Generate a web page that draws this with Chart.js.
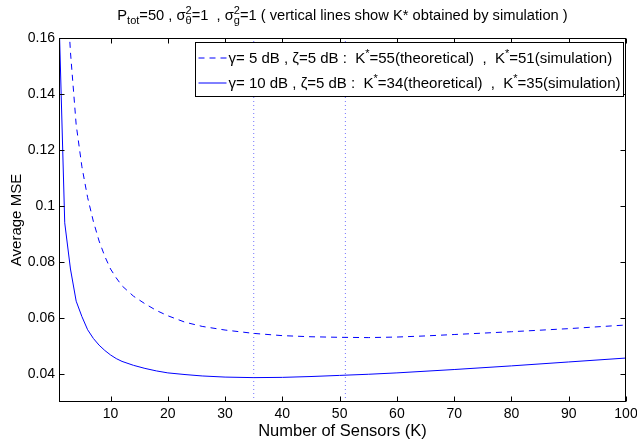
<!DOCTYPE html>
<html><head><meta charset="utf-8">
<script src="https://cdn.jsdelivr.net/npm/chart.js@4.4.0/dist/chart.umd.min.js"></script>
<style>html,body{margin:0;padding:0;background:#fff;overflow:hidden}#wrap{position:relative;width:637px;height:439px}</style>
</head><body><div id="wrap"><canvas id="c" width="637" height="439"></canvas></div>
<script>
// ---- data ----
const kDashed   = [2,3,4,5,6,7,8,9,10,11,12,14,16,18,20,23,26,30,35,40,45,50,55,60,65,70,80,90,100];
const mseDashed = [0.19,0.155,0.129,0.114,0.103,0.0945,0.0875,0.082,0.0775,0.0743,0.0715,0.0678,0.0651,0.0627,0.0608,0.0585,0.057,0.0557,0.0545,0.0537,0.0533,0.0531,0.053,0.0532,0.0536,0.0541,0.0551,0.0562,0.0575];
const kSolid    = [1,2,3,4,5,6,7,8,9,10,11,12,14,16,18,20,23,26,30,35,40,45,50,55,60,70,80,90,100];
const mseSolid  = [0.168,0.094,0.0775,0.066,0.0605,0.0558,0.0527,0.0503,0.0484,0.0468,0.0455,0.0445,0.0431,0.042,0.0411,0.0404,0.0398,0.0393,0.0389,0.0387,0.0388,0.0391,0.0395,0.0399,0.0404,0.0416,0.0429,0.0443,0.0457];
const kSimulated = [35, 51];
const xTicks = [10,20,30,40,50,60,70,80,90,100];
const yTicks = [0.04,0.06,0.08,0.1,0.12,0.14,0.16];
const yTickLabels = ['0.04','0.06','0.08','0.1','0.12','0.14','0.16'];
const xRange = [1, 100];
const yRange = [0.03, 0.16];
const seriesLabels = [
  'γ= 5 dB , ζ=5 dB :  K^{*}=55(theoretical)  ,  K^{*}=51(simulation)',
  'γ= 10 dB , ζ=5 dB :  K^{*}=34(theoretical)  ,  K^{*}=35(simulation)'
];
const titleText = 'P_{tot}=50 , σ^{2}_{θ}=1  , σ^{2}_{g}=1 ( vertical lines show K* obtained by simulation )';
const xTitle = 'Number of Sensors (K)';
const yTitle = 'Average MSE';

// ---- helpers ----
const FONT = "'Liberation Sans', Arial, Helvetica, sans-serif";
function parseRich(s){
  const out=[]; let i=0, buf='';
  while(i<s.length){
    const c=s[i];
    if((c==='^'||c==='_') && s[i+1]==='{'){
      const j=s.indexOf('}',i);
      const t=s.slice(i+2,j);
      if(buf){out.push({t:buf,k:'n'});buf='';}
      const kind=c==='^'?'sup':'sub';
      const prev=out[out.length-1];
      if(prev && prev.k!=='n' && prev.k!==kind && !prev.stack){prev.stack={t:t,k:kind};}
      else out.push({t:t,k:kind});
      i=j+1;
    } else {buf+=c;i++;}
  }
  if(buf) out.push({t:buf,k:'n'});
  return out;
}
function richWidth(ctx, segs, size){
  let w=0;
  for(const s of segs){
    if(s.k==='n'){ctx.font=size+'px '+FONT; w+=ctx.measureText(s.t).width;}
    else {
      const ss=Math.round(size*0.72); ctx.font=ss+'px '+FONT;
      let a=ctx.measureText(s.t).width;
      if(s.stack) a=Math.max(a, ctx.measureText(s.stack.t).width);
      w+=a;
    }
  }
  return w;
}
function drawRich(ctx, str, x, y, size, align){
  const segs=parseRich(str);
  const W=richWidth(ctx, segs, size);
  let cx = align==='center' ? x-W/2 : x;
  ctx.textBaseline='alphabetic'; ctx.textAlign='left'; ctx.fillStyle='#000';
  for(const s of segs){
    if(s.k==='n'){ctx.font=size+'px '+FONT; ctx.fillText(s.t,cx,y); cx+=ctx.measureText(s.t).width;}
    else {
      const ss=Math.round(size*0.72); ctx.font=ss+'px '+FONT;
      const parts=[s]; if(s.stack) parts.push(s.stack);
      let adv=0;
      for(const p of parts){
        const dy = p.k==='sup' ? -size*0.4 : size*0.3;
        ctx.fillText(p.t,cx,y+dy);
        adv=Math.max(adv, ctx.measureText(p.t).width);
      }
      cx+=adv;
    }
  }
  return W;
}

const framePlugin = {
  id:'frame',
  afterDraw(chart){
    const ctx=chart.ctx, a=chart.chartArea, xs=chart.scales.x, ys=chart.scales.y;
    ctx.save();
    ctx.strokeStyle='#000'; ctx.lineWidth=1;
    const L=Math.round(a.left)+0.5, R=Math.round(a.right)-0.5, T=Math.round(a.top)+0.5, B=Math.round(a.bottom)-0.5;
    ctx.strokeRect(L,T,R-L,B-T);
    const tl=5;
    ctx.beginPath();
    for(const v of xTicks){
      const px=Math.round(xs.getPixelForValue(v))+0.5;
      ctx.moveTo(px,B); ctx.lineTo(px,B-tl);
      ctx.moveTo(px,T); ctx.lineTo(px,T+tl);
    }
    for(const v of yTicks){
      const py=Math.round(ys.getPixelForValue(v))+0.5;
      ctx.moveTo(L,py); ctx.lineTo(L+tl,py);
      ctx.moveTo(R,py); ctx.lineTo(R-tl,py);
    }
    ctx.stroke();

    // title
    drawRich(ctx, titleText, (a.left+a.right)/2, 19.5, 14.7, 'center');

    // axis titles
    ctx.fillStyle='#000'; ctx.textAlign='center'; ctx.textBaseline='alphabetic';
    ctx.font='16.5px '+FONT;
    ctx.fillText(xTitle, (a.left+a.right)/2, 436);
    ctx.save();
    ctx.translate(20.5, (a.top+a.bottom)/2);
    ctx.rotate(-Math.PI/2);
    ctx.font='15px '+FONT;
    ctx.fillText(yTitle, 0, 0);
    ctx.restore();

    // legend
    const size=15;
    const widths=seriesLabels.map(s=>richWidth(ctx, parseRich(s), size));
    const textW=Math.max(...widths);
    const sampleW=28, gap=2;
    const boxR=Math.round(a.right)-2.5, boxT=Math.round(a.top)+4.5;
    const boxW=Math.round(3+sampleW+gap+textW+3), boxH=54;
    const boxL=boxR-boxW;
    ctx.fillStyle='#fff'; ctx.fillRect(boxL,boxT,boxW,boxH);
    ctx.strokeStyle='#000'; ctx.lineWidth=1; ctx.setLineDash([]);
    ctx.strokeRect(boxL,boxT,boxW,boxH);
    const rows=[boxT+15.5, boxT+40.5];
    chart.data.datasets.slice(0,2).forEach((ds,i)=>{
      ctx.strokeStyle=ds.borderColor; ctx.lineWidth=1;
      ctx.setLineDash(ds.borderDash||[]);
      ctx.beginPath(); ctx.moveTo(boxL+3,rows[i]); ctx.lineTo(boxL+3+sampleW,rows[i]); ctx.stroke();
      ctx.setLineDash([]);
      drawRich(ctx, seriesLabels[i], boxL+3+sampleW+gap, rows[i]+5, size, 'left');
    });
    ctx.restore();
  }
};

const pts=(xs,ys)=>xs.map((x,i)=>({x:x,y:ys[i]}));
const datasets=[
  {label:seriesLabels[0], data:pts(kDashed,mseDashed), showLine:true, borderColor:'#0000ff', borderWidth:1, borderDash:[6,5], pointRadius:0, tension:0, fill:false},
  {label:seriesLabels[1], data:pts(kSolid,mseSolid), showLine:true, borderColor:'#0000ff', borderWidth:1, pointRadius:0, tension:0, fill:false}
];
kSimulated.forEach(k=>datasets.push({label:'K*='+k, data:[{x:k,y:yRange[0]},{x:k,y:yRange[1]}], showLine:true, borderColor:'rgba(0,0,255,0.55)', borderWidth:1, borderDash:[1,3], pointRadius:0, fill:false}));

new Chart(document.getElementById('c'), {
  type:'scatter',
  data:{datasets:datasets},
  options:{
    responsive:false, animation:false, devicePixelRatio:1,
    layout:{padding:{left:0,right:11,top:38,bottom:0}},
    plugins:{legend:{display:false}, title:{display:false}, tooltip:{enabled:false}},
    scales:{
      x:{type:'linear', min:xRange[0], max:xRange[1],
        afterBuildTicks:s=>{s.ticks=xTicks.map(v=>({value:v}));},
        afterFit:s=>{s.height=37; s.paddingLeft=0; s.paddingRight=0;},
        grid:{display:false, drawTicks:false}, border:{display:false},
        ticks:{color:'#000', font:{family:FONT,size:14}, padding:4, maxRotation:0, autoSkip:false, callback:v=>String(v)},
        title:{display:false}
      },
      y:{type:'linear', min:yRange[0], max:yRange[1],
        afterBuildTicks:s=>{s.ticks=yTicks.map(v=>({value:v}));},
        afterFit:s=>{s.width=59; s.paddingTop=0; s.paddingBottom=0;},
        grid:{display:false, drawTicks:false}, border:{display:false},
        ticks:{color:'#000', font:{family:FONT,size:14}, padding:4, autoSkip:false, callback:(v,i)=>yTickLabels[i]},
        title:{display:false}
      }
    }
  },
  plugins:[framePlugin]
});
</script></body></html>
